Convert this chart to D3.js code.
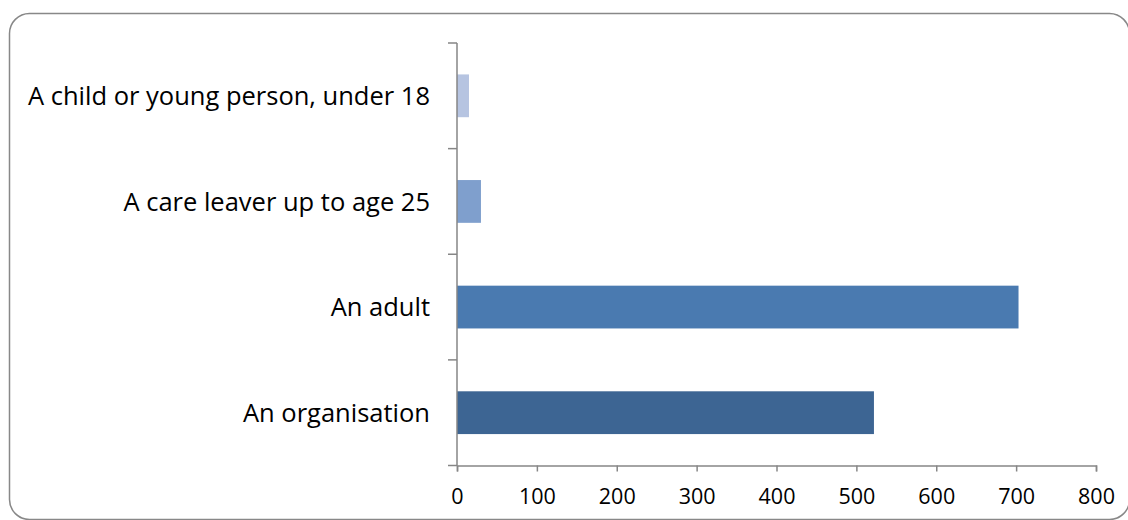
<!DOCTYPE html>
<html><head><meta charset="utf-8">
<script src="https://cdn.jsdelivr.net/npm/d3@7"></script>
<style>body{margin:0;background:#fff}svg{display:block}</style>
</head><body>
<svg id="c" width="1128" height="520"></svg>
<script>
const categories = ["A child or young person, under 18", "A care leaver up to age 25", "An adult", "An organisation"];
const values = [15, 30, 703, 522];
const colors = ["#b6c4e1", "#7f9fcd", "#4a7ab0", "#3d6593"];
const xTicks = [0, 100, 200, 300, 400, 500, 600, 700, 800];

const svg = d3.select("#c");
const font = "'Open Sans', sans-serif";

svg.append("rect").attr("x", 9.5).attr("y", 13.5).attr("width", 1120).attr("height", 506)
  .attr("rx", 20).attr("fill", "#fff").attr("stroke", "#888").attr("stroke-width", 1.5);

const x = d3.scaleLinear().domain([0, 800]).range([457, 1096]);
const y = d3.scaleBand().domain(categories).range([43, 465.5]).paddingInner(0.595).paddingOuter(0.2975);

svg.selectAll("rect.bar").data(categories).join("rect").attr("class", "bar")
  .attr("x", x(0)).attr("y", d => y(d))
  .attr("width", (d, i) => x(values[i]) - x(0)).attr("height", y.bandwidth())
  .attr("fill", (d, i) => colors[i]);

const axisColor = "#868686";
// x axis
const xAxis = d3.axisBottom(x).tickValues(xTicks).tickSize(6).tickPadding(17).tickFormat(d3.format("d"));
const gx = svg.append("g").attr("transform", "translate(0,465.5)").call(xAxis);
gx.select(".domain").attr("stroke", axisColor).attr("stroke-width", 1.5);
gx.selectAll(".tick line").attr("stroke", axisColor).attr("stroke-width", 1.5);
gx.selectAll(".tick text").attr("font-family", font).attr("font-size", 21.5).attr("fill", "#000");

// y axis line and boundary ticks
const bounds = d3.range(categories.length + 1).map(i => 43 + i * (422.5 / categories.length));
svg.append("line").attr("x1", x(0)).attr("x2", x(0)).attr("y1", 43).attr("y2", 465.5)
  .attr("stroke", axisColor).attr("stroke-width", 1.5);
svg.selectAll("line.yt").data(bounds).join("line").attr("class", "yt")
  .attr("x1", x(0) - 9).attr("x2", x(0)).attr("y1", d => d).attr("y2", d => d)
  .attr("stroke", axisColor).attr("stroke-width", 1.5);

svg.selectAll("text.cat").data(categories).join("text").attr("class", "cat")
  .attr("x", 430).attr("y", d => y(d) + y.bandwidth() / 2).attr("dy", "0.36em")
  .attr("text-anchor", "end").attr("font-family", font).attr("font-size", 25.5).attr("fill", "#000")
  .text(d => d);
</script>
</body></html>
